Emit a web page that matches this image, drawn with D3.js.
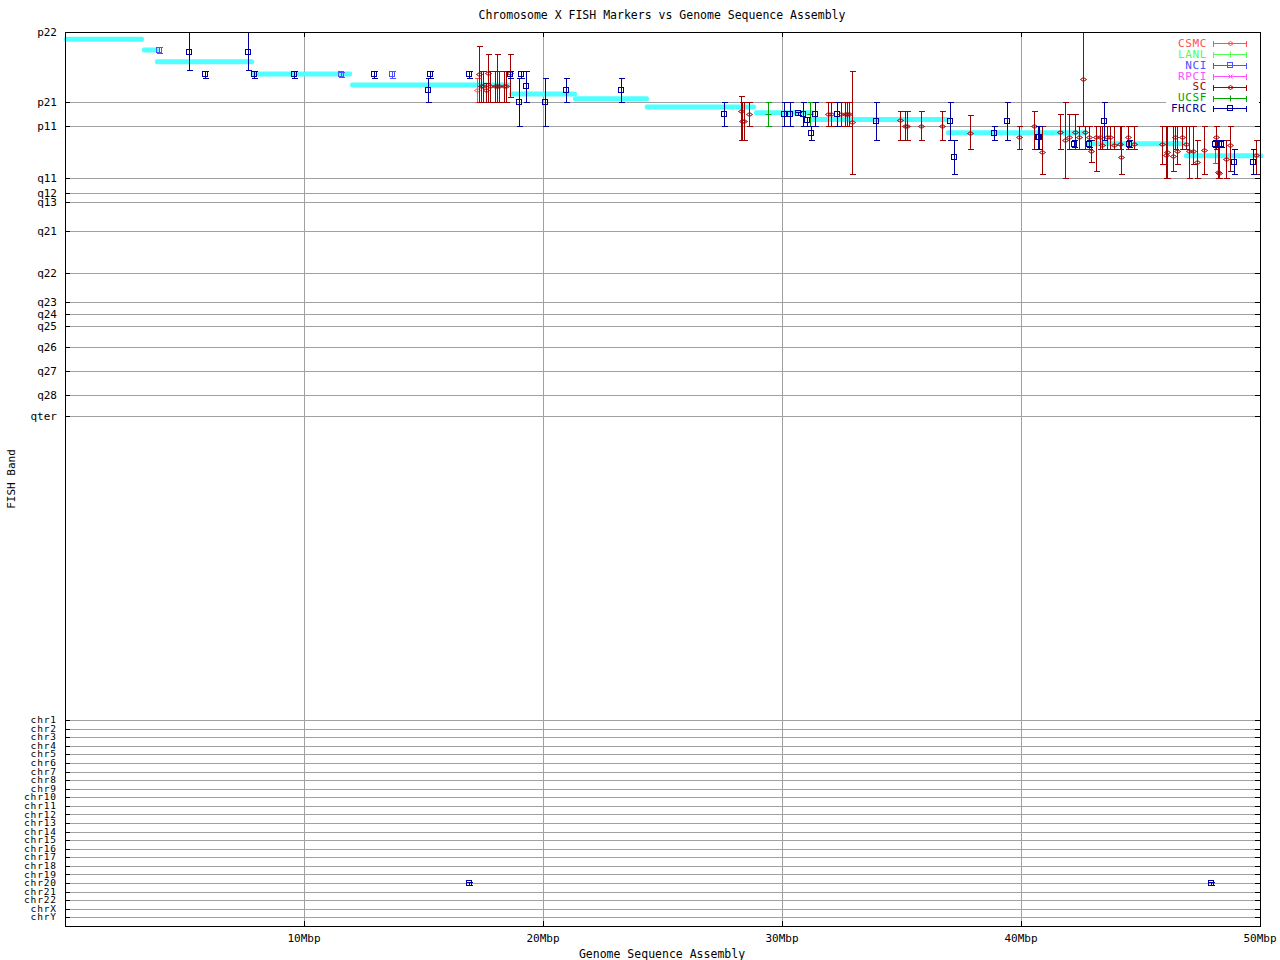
<!DOCTYPE html>
<html><head><meta charset="utf-8">
<script src="https://cdn.jsdelivr.net/npm/d3@7"></script>
<style>
body{margin:0;background:#fff;}
svg{display:block;}
text{font-family:"DejaVu Sans Mono",monospace;}
</style></head>
<body>
<script>
// ---------------- DATA ----------------
const title = "Chromosome X FISH Markers vs Genome Sequence Assembly";
const xLabel = "Genome Sequence Assembly";
const yLabel = "FISH Band";
const xTickValues = [10, 20, 30, 40, 50];
const xTickLabels = ["10Mbp", "20Mbp", "30Mbp", "40Mbp", "50Mbp"];
const bandLabels = ["p22","p21","p11","q11","q12","q13","q21","q22","q23","q24","q25","q26","q27","q28","qter"];
const bandPos = [0, 7.03, 9.43, 14.63, 16.13, 17.03, 19.87, 24.13, 26.97, 28.17, 29.37, 31.47, 33.87, 36.27, 38.37];
const chrLabels = ["chr1","chr2","chr3","chr4","chr5","chr6","chr7","chr8","chr9","chr10","chr11","chr12","chr13","chr14","chr15","chr16","chr17","chr18","chr19","chr20","chr21","chr22","chrX","chrY"];
const chrPos = [68.80,69.66,70.52,71.37,72.23,73.09,73.95,74.81,75.66,76.52,77.38,78.24,79.10,79.95,80.81,81.67,82.53,83.39,84.24,85.10,85.96,86.82,87.68,88.53];

// assembly band segments (Mbp start, Mbp end, band position)
const segStart = [0, 3.26, 3.81, 7.87, 11.97, 18.62, 21.30, 24.30, 28.87, 31.17, 36.90, 42.72, 46.86];
const segEnd   = [3.26, 3.89, 7.87, 11.97, 18.62, 21.38, 24.39, 28.87, 31.30, 36.97, 42.72, 46.86, 50.10];
const segBand  = [0.73, 1.80, 2.97, 4.20, 5.30, 6.20, 6.67, 7.50, 8.07, 8.75, 10.07, 11.17, 12.37];

// series: [Mbp, band, bandLow, bandHigh]
const seriesNames = ["CSMC","LANL","NCI","RPCI","SC","UCSF","FHCRC"];
const seriesColors = ["#ff5050","#50ff50","#5050ff","#ff50ff","#a00000","#00a000","#0000a0"];
const seriesMarkers = ["diamond","plus","square","cross","diamond","plus","square"];

const CSMC = [[17.25,5.83,4.63,7.03]];
const LANL = [];
const NCI = [[3.92,1.80,1.50,2.10],[11.55,4.23,3.95,4.50],[13.67,4.23,3.90,4.55],[48.10,11.17,10.83,13.10]];
const RPCI = [];
const SC = [
 [17.33,4.23,1.43,7.03],[17.42,5.43,3.85,7.03],[17.50,5.43,3.85,7.03],[17.62,5.83,5.13,7.03],
 [17.71,4.13,2.20,7.03],[17.79,5.43,3.85,7.03],[18.00,5.43,3.85,7.03],[18.09,5.43,2.20,7.03],
 [18.17,5.43,3.85,7.03],[18.37,5.43,3.85,7.03],[18.45,5.43,3.85,7.03],[18.63,4.13,2.20,6.53],
 [28.30,7.93,6.43,10.83],[28.33,8.93,7.03,10.83],[28.41,8.93,7.03,10.83],[28.62,8.23,7.03,9.43],
 [31.94,8.23,7.03,9.43],[32.05,8.23,7.03,9.43],[32.47,8.23,7.03,9.43],[32.65,8.23,7.03,9.43],
 [32.71,8.23,7.03,9.43],[32.82,8.23,7.03,9.43],[32.91,9.03,3.85,14.23],
 [34.93,8.77,7.93,10.83],[35.13,9.43,7.93,10.83],[35.24,9.43,7.93,10.83],[35.83,9.43,7.93,10.83],
 [36.71,9.43,7.93,10.83],[37.88,10.13,8.33,11.73],[39.93,10.53,9.43,11.73],[40.56,9.43,7.93,11.73],
 [40.89,12.03,9.43,14.23],[41.62,10.03,8.23,11.73],[41.85,10.83,7.03,14.63],[42.02,10.53,8.23,11.73],
 [42.27,10.03,8.23,11.73],[42.41,10.53,9.43,11.73],[42.61,4.70,0,9.43],[42.69,10.03,9.43,11.73],
 [42.86,10.53,9.43,11.73],[42.94,11.93,10.83,12.97],[43.15,10.53,9.43,13.87],[43.29,10.53,9.43,11.73],
 [43.38,11.33,9.43,11.73],[43.59,10.53,9.43,11.73],[43.71,10.53,9.43,11.73],[43.89,11.33,9.43,11.73],
 [44.14,11.17,9.43,11.73],[44.20,12.53,9.43,14.23],[44.49,10.53,9.43,11.73],[44.74,11.17,9.43,11.73],
 [45.89,11.17,9.43,13.17],[46.05,12.33,9.43,14.63],[46.12,12.03,9.43,14.63],[46.35,12.37,9.43,13.87],
 [46.43,10.53,9.43,11.73],[46.51,11.93,9.43,13.17],[46.72,10.53,9.43,11.73],[46.89,11.17,9.43,11.73],
 [47.02,11.93,9.43,14.63],[47.20,11.93,9.43,13.17],[47.36,12.97,10.83,14.63],[47.66,11.83,9.43,14.23],
 [48.16,10.53,9.43,11.73],[48.26,14.00,10.83,14.63],[48.30,14.07,10.83,14.63],[48.58,12.73,10.83,14.63],
 [48.74,11.30,9.43,13.87],[49.85,12.33,10.83,14.23]
];
const UCSF = [[29.43,8.23,7.03,9.43],[31.18,8.23,7.03,9.43]];
const FHCRC = [
 [5.20,1.95,0,3.80],[5.87,4.23,3.87,4.57],[7.67,1.97,0,3.80],[7.92,4.23,3.87,4.57],
 [9.59,4.23,3.87,4.57],[12.94,4.23,3.87,4.57],[15.28,4.23,3.87,4.57],[15.20,5.83,4.63,7.03],
 [16.92,4.23,3.87,4.57],[18.61,4.23,3.87,4.57],[19.01,7.03,4.63,9.43],[19.09,4.23,3.87,4.57],
 [19.30,5.43,3.85,7.03],[20.10,7.03,4.63,9.43],[20.97,5.83,4.63,7.03],[23.28,5.83,4.63,7.03],
 [27.59,8.23,7.03,9.43],[30.10,8.23,7.03,9.43],[30.35,8.23,7.03,9.43],[30.68,8.13,8.00,8.30],
 [30.86,8.23,7.03,9.43],[31.06,8.83,8.50,9.43],[31.22,10.13,9.43,10.83],[31.36,8.23,7.03,9.43],
 [31.38,8.23,7.03,9.43],[31.40,8.23,7.03,9.43],[32.29,8.23,7.03,9.43],[33.95,8.93,7.03,10.83],
 [37.02,8.85,7.03,10.83],[37.21,12.53,10.83,14.23],[38.88,10.13,9.43,10.83],[39.43,8.93,7.03,10.83],
 [40.72,10.53,9.43,11.73],[40.74,10.53,9.43,11.73],[40.76,10.53,9.43,11.73],[42.23,11.17,10.83,11.50],
 [42.86,11.17,10.83,11.50],[43.49,8.93,7.03,10.83],[44.53,11.17,10.83,11.50],[48.12,11.17,10.83,11.50],
 [48.37,11.17,10.83,11.50],[48.93,13.00,11.73,14.23],[49.72,13.00,11.73,14.23],
 [16.90,85.10,84.95,85.25],[47.95,85.10,84.95,85.25]
];
const seriesData = [CSMC, LANL, NCI, RPCI, SC, UCSF, FHCRC];

// ---------------- CHART ----------------
const W = 1280, H = 960;
const svg = d3.select("body").append("svg").attr("width", W).attr("height", H);
const x = d3.scaleLinear().domain([0, 50]).range([65, 1260]);
const y = d3.scaleLinear().domain([0, 89.4]).range([32, 926]);
const c = v => Math.round(v) + 0.5;
const GRID = "#a0a0a0";

// horizontal grid
const allYTicks = bandPos.concat(chrPos);
svg.append("g").selectAll("line").data(allYTicks).join("line")
  .attr("x1", 65).attr("x2", 1260).attr("y1", d => c(y(d))).attr("y2", d => c(y(d)))
  .attr("stroke", GRID).attr("stroke-width", 1).attr("shape-rendering", "crispEdges");
// vertical grid
svg.append("g").selectAll("line").data(xTickValues.slice(0, 4)).join("line")
  .attr("x1", d => c(x(d))).attr("x2", d => c(x(d))).attr("y1", 32).attr("y2", 926)
  .attr("stroke", GRID).attr("stroke-width", 1).attr("shape-rendering", "crispEdges");

// assembly segments
svg.append("g").selectAll("rect").data(segBand).join("rect")
  .attr("x", (d, i) => x(segStart[i]) - 1)
  .attr("width", (d, i) => x(segEnd[i]) - x(segStart[i]) + 2)
  .attr("y", d => y(d) - 2.5).attr("height", 5)
  .attr("rx", 2).attr("fill", "#50ffff");

// markers
function marker(g, type, cx, cy, col) {
  if (type === "square") {
    g.append("rect").attr("x", Math.round(cx) - 2.5).attr("y", Math.round(cy) - 2.5)
      .attr("width", 5).attr("height", 5).attr("fill", "none").attr("stroke", col).attr("stroke-width", 1);
  } else if (type === "diamond") {
    const X = Math.round(cx) + 0.5, Y = Math.round(cy) + 0.5;
    g.append("path").attr("d", `M${X-3},${Y}L${X},${Y-2}L${X+3},${Y}L${X},${Y+2}Z`)
      .attr("fill", "none").attr("stroke", col).attr("stroke-width", 1);
  } else if (type === "plus") {
    const X = Math.round(cx) + 0.5, Y = Math.round(cy) + 0.5;
    g.append("path").attr("d", `M${X-3},${Y}L${X+3},${Y}M${X},${Y-3}L${X},${Y+3}`)
      .attr("stroke", col).attr("stroke-width", 1);
  } else if (type === "cross") {
    const X = Math.round(cx) + 0.5, Y = Math.round(cy) + 0.5;
    g.append("path").attr("d", `M${X-2},${Y-2}L${X+2},${Y+2}M${X+2},${Y-2}L${X-2},${Y+2}`)
      .attr("stroke", col).attr("stroke-width", 1);
  }
}

seriesData.forEach((arr, si) => {
  const col = seriesColors[si];
  const g = svg.append("g");
  arr.forEach(d => {
    const px = c(x(d[0]));
    const y0 = c(y(d[2])), y1 = c(y(d[3]));
    g.append("line").attr("x1", px).attr("x2", px).attr("y1", y0).attr("y2", y1)
      .attr("stroke", col).attr("stroke-width", 1).attr("shape-rendering", "crispEdges");
    [y0, y1].forEach(yy => g.append("line").attr("x1", px - 3).attr("x2", px + 3).attr("y1", yy).attr("y2", yy)
      .attr("stroke", col).attr("stroke-width", 1).attr("shape-rendering", "crispEdges"));
    marker(g, seriesMarkers[si], x(d[0]), y(d[1]), col);
  });
});

// border
svg.append("rect").attr("x", 65.5).attr("y", 32.5).attr("width", 1195).attr("height", 894)
  .attr("fill", "none").attr("stroke", "#000").attr("stroke-width", 1).attr("shape-rendering", "crispEdges");

// y ticks left & right
const ya = svg.append("g").attr("shape-rendering", "crispEdges");
allYTicks.forEach(v => {
  const yy = c(y(v));
  ya.append("line").attr("x1", 65).attr("x2", 70).attr("y1", yy).attr("y2", yy).attr("stroke", "#000");
  ya.append("line").attr("x1", 1255).attr("x2", 1260).attr("y1", yy).attr("y2", yy).attr("stroke", "#000");
});
// x ticks top & bottom
xTickValues.forEach(v => {
  const xx = c(x(v));
  ya.append("line").attr("x1", xx).attr("x2", xx).attr("y1", 926).attr("y2", 921).attr("stroke", "#000");
  ya.append("line").attr("x1", xx).attr("x2", xx).attr("y1", 32).attr("y2", 37).attr("stroke", "#000");
});

// tick labels
const yLab = svg.append("g").attr("text-anchor", "end").attr("fill", "#000");
bandLabels.forEach((t, i) => yLab.append("text").attr("x", 57).attr("y", y(bandPos[i])).attr("dy", "0.35em")
  .attr("font-size", 11).text(t));
chrLabels.forEach((t, i) => yLab.append("text").attr("x", 57).attr("y", y(chrPos[i])).attr("dy", "0.33em")
  .attr("font-size", 9.5).attr("letter-spacing", 0.9).text(t));
svg.append("g").attr("font-size", 11).attr("text-anchor", "middle").selectAll("text")
  .data(xTickValues).join("text").attr("x", d => x(d)).attr("y", 942).text((d, i) => xTickLabels[i]);

// titles
svg.append("text").attr("x", 662).attr("y", 19).attr("text-anchor", "middle").attr("font-size", 11.5).text(title);
svg.append("text").attr("x", 662).attr("y", 958).attr("text-anchor", "middle").attr("font-size", 11.5).text(xLabel);
svg.append("text").attr("transform", "translate(15,479) rotate(-90)").attr("text-anchor", "middle").attr("font-size", 11).text(yLabel);

// legend
const lg = svg.append("g");
lg.append("rect").attr("x", 1166).attr("y", 33).attr("width", 93).attr("height", 81).attr("fill", "#fff");
seriesNames.forEach((n, i) => {
  const yy = 43 + i * 10.9;
  const col = seriesColors[i];
  lg.append("text").attr("x", 1207).attr("y", yy).attr("dy", "0.35em").attr("text-anchor", "end")
    .attr("font-size", 11).attr("letter-spacing", 0.6).attr("fill", col).text(n);
  const ly = Math.round(yy) + 0.5;
  lg.append("line").attr("x1", 1213.5).attr("x2", 1246.5).attr("y1", ly).attr("y2", ly).attr("stroke", col).attr("shape-rendering", "crispEdges");
  [1213.5, 1246.5].forEach(xx => lg.append("line").attr("x1", xx).attr("x2", xx).attr("y1", ly - 3).attr("y2", ly + 3).attr("stroke", col).attr("shape-rendering", "crispEdges"));
  marker(lg, seriesMarkers[i], 1229.5, yy, col);
});
</script>
</body></html>
